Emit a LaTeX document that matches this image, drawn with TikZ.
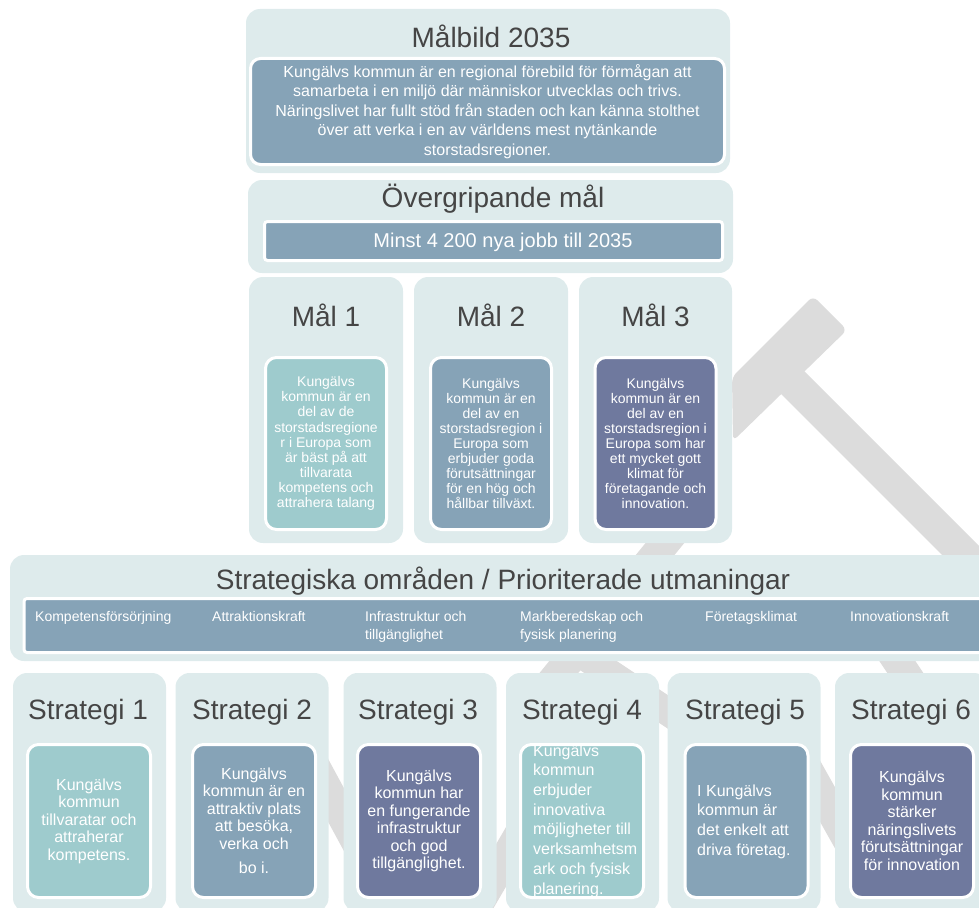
\documentclass[tikz,border=0pt]{standalone}
\usepackage{fontspec}
\setmainfont{Liberation Sans}
\usetikzlibrary{positioning}

\definecolor{palebg}{HTML}{DEEBEC}
\definecolor{steelbox}{HTML}{86A3B7}
\definecolor{tealbox}{HTML}{9ECBCD}
\definecolor{slatebox}{HTML}{6F799E}
\definecolor{headgrey}{HTML}{454545}
\definecolor{markgrey}{HTML}{DCDCDC}

\begin{document}
\begin{tikzpicture}
            [x=1pt, y=-1pt,
            outerbox/.style={rectangle, rounded corners=14pt, fill=palebg, inner sep=0pt},
            innerbox/.style={rectangle, rounded corners=11pt, draw=white, line width=3pt, inner sep=0pt, text=white, align=center},
            heading/.style={anchor=base, text=headgrey, inner sep=0pt, font=\fontsize{28}{32}\selectfont},
            goaltext/.style={font=\fontsize{14}{15.1}\selectfont},
            strattext/.style={font=\fontsize{16}{17.5}\selectfont},
            arealabel/.style={anchor=north west, inner sep=0pt, align=left, text=white, font=\fontsize{14}{17.5}\selectfont},
            markline/.style={draw=markgrey, line width=30pt}]

            \useasboundingbox (0,0) rectangle (979,907);
            \clip (0,0) rectangle (979,907);

            % grey tools in the background
            \fill[markgrey, rounded corners=6pt] (732,377) -- (813,296) -- (847,330) -- (733,441) -- cycle;
            \fill[markgrey] (803,370) -- (1133,700) -- (1087,700) -- (780,393) -- cycle;
            \draw[markline] (700,500) -- (545,690);
            \draw[markline, line width=28pt] (560,640) -- (740,760);
            \draw[markline] (870,620) -- (990,800);
            \draw[markline] (290,720) -- (420,960);
            \draw[markline] (580,730) -- (440,970);
            \draw[markline] (780,720) -- (870,880);

            % vision
            \node[outerbox, minimum width=484, minimum height=164] (malbild) at (488,91) {};
            \node[heading] (malbildtitle) at (491,48) {Målbild 2035};
            \node[innerbox, fill=steelbox, rounded corners=10pt, minimum width=474, minimum height=106,
                  font=\fontsize{16}{19.6}\selectfont] (malbildtext) at (487.5,111.5)
                  {Kungälvs kommun är en regional förebild för förmågan att\\
                   samarbeta i en miljö där människor utvecklas och trivs.\\
                   Näringslivet har fullt stöd från staden och kan känna stolthet\\
                   över att verka i en av världens mest nytänkande\\
                   storstadsregioner.};

            % overall goal
            \node[outerbox, minimum width=485, minimum height=93] (overgr) at (490.5,226.5) {};
            \node[heading] (overgrtitle) at (493,207) {Övergripande mål};
            \node[innerbox, fill=steelbox, rounded corners=3pt, minimum width=458, minimum height=39] (overgrbox) at (493.5,241) {};
            \node[anchor=base, inner sep=0pt, text=white, font=\fontsize{20}{24}\selectfont] (minst) at (503,247) {Minst 4 200 nya jobb till 2035};

            % goals
            \node[outerbox, minimum width=154, minimum height=266] (mal1) at (326,410) {};
            \node[outerbox, minimum width=154, minimum height=266] (mal2) at (491,410) {};
            \node[outerbox, minimum width=153, minimum height=266] (mal3) at (655.5,410) {};
            \node[heading] (mal1title) at (326,326) {Mål 1};
            \node[heading] (mal2title) at (491,326) {Mål 2};
            \node[heading] (mal3title) at (655.5,326) {Mål 3};
            \node[innerbox, goaltext, fill=tealbox, minimum width=121, minimum height=172] (mal1text) at (326,443.5)
                  {Kungälvs\\kommun är en\\del av de\\storstadsregione\\r i Europa som\\är bäst på att\\tillvarata\\kompetens och\\attrahera talang};
            \node[innerbox, goaltext, fill=steelbox, minimum width=121, minimum height=172] (mal2text) at (491,443.5)
                  {Kungälvs\\kommun är en\\del av en\\storstadsregion i\\Europa som\\erbjuder goda\\förutsättningar\\för en hög och\\hållbar tillväxt.};
            \node[innerbox, goaltext, fill=slatebox, minimum width=121, minimum height=172] (mal3text) at (655.5,443.5)
                  {Kungälvs\\kommun är en\\del av en\\storstadsregion i\\Europa som har\\ett mycket gott\\klimat för\\företagande och\\innovation.};

            % strategic areas
            \node[outerbox, minimum width=990, minimum height=106] (omraden) at (505,608) {};
            \node[heading] (omradentitle) at (503,589) {Strategiska områden / Prioriterade utmaningar};
            \node[innerbox, fill=steelbox, rounded corners=3pt, minimum width=976, minimum height=54] (omradenbox) at (512,625.5) {};
            \node[arealabel] (omr1) at (35,611.5) {Kompetensförsörjning};
            \node[arealabel] (omr2) at (212,611.5) {Attraktionskraft};
            \node[arealabel] (omr3) at (365,611.5) {Infrastruktur och\\tillgänglighet};
            \node[arealabel] (omr4) at (520,611.5) {Markberedskap och\\fysisk planering};
            \node[arealabel] (omr5) at (705,611.5) {Företagsklimat};
            \node[arealabel] (omr6) at (850,611.5) {Innovationskraft};

            % strategies
            \node[outerbox, minimum width=153, minimum height=239] (strat1) at (89.5,792.5) {};
            \node[outerbox, minimum width=153, minimum height=239] (strat2) at (252,792.5) {};
            \node[outerbox, minimum width=153, minimum height=239] (strat3) at (420,792.5) {};
            \node[outerbox, minimum width=153, minimum height=239] (strat4) at (582.5,792.5) {};
            \node[outerbox, minimum width=153, minimum height=239] (strat5) at (744,792.5) {};
            \node[outerbox, minimum width=153, minimum height=239] (strat6) at (911.5,792.5) {};
            \node[heading] (strat1title) at (88,719) {Strategi 1};
            \node[heading] (strat2title) at (252,719) {Strategi 2};
            \node[heading] (strat3title) at (418,719) {Strategi 3};
            \node[heading] (strat4title) at (582,719) {Strategi 4};
            \node[heading] (strat5title) at (745,719) {Strategi 5};
            \node[heading] (strat6title) at (911,719) {Strategi 6};

            \node[innerbox, strattext, fill=tealbox, minimum width=123, minimum height=153] (strat1text) at (89,821)
                  {Kungälvs\\kommun\\tillvaratar och\\attraherar\\kompetens.};
            \node[innerbox, strattext, fill=steelbox, minimum width=123, minimum height=153] (strat2text) at (254,821)
                  {Kungälvs\\kommun är en\\attraktiv plats\\att besöka,\\verka och\\[7pt]bo i.};
            \node[innerbox, strattext, fill=slatebox, minimum width=123, minimum height=153] (strat3text) at (419,821)
                  {Kungälvs\\kommun har\\en fungerande\\infrastruktur\\och god\\tillgänglighet.};
            \node[innerbox, fill=tealbox, minimum width=123, minimum height=153] (strat4box) at (582,821) {};
            \node[innerbox, fill=steelbox, minimum width=123, minimum height=153] (strat5box) at (746.5,821) {};
            \node[innerbox, strattext, fill=slatebox, minimum width=123, minimum height=153] (strat6text) at (912,821)
                  {Kungälvs\\kommun\\stärker\\näringslivets\\förutsättningar\\för innovation};

            \begin{scope}
            \clip (520,744) rectangle (645,897);
            \node[anchor=west, inner sep=0pt, align=left, text=white, font=\fontsize{16}{19.7}\selectfont] (strat4text) at (533,821)
                  {Kungälvs\\kommun\\erbjuder\\innovativa\\möjligheter till\\verksamhetsm\\ark och fysisk\\planering.};
            \end{scope}
            \node[anchor=west, inner sep=0pt, align=left, text=white, font=\fontsize{16}{19.7}\selectfont] (strat5text) at (697,821.5)
                  {I Kungälvs\\kommun är\\det enkelt att\\driva företag.};

        \end{tikzpicture}
\end{document}
